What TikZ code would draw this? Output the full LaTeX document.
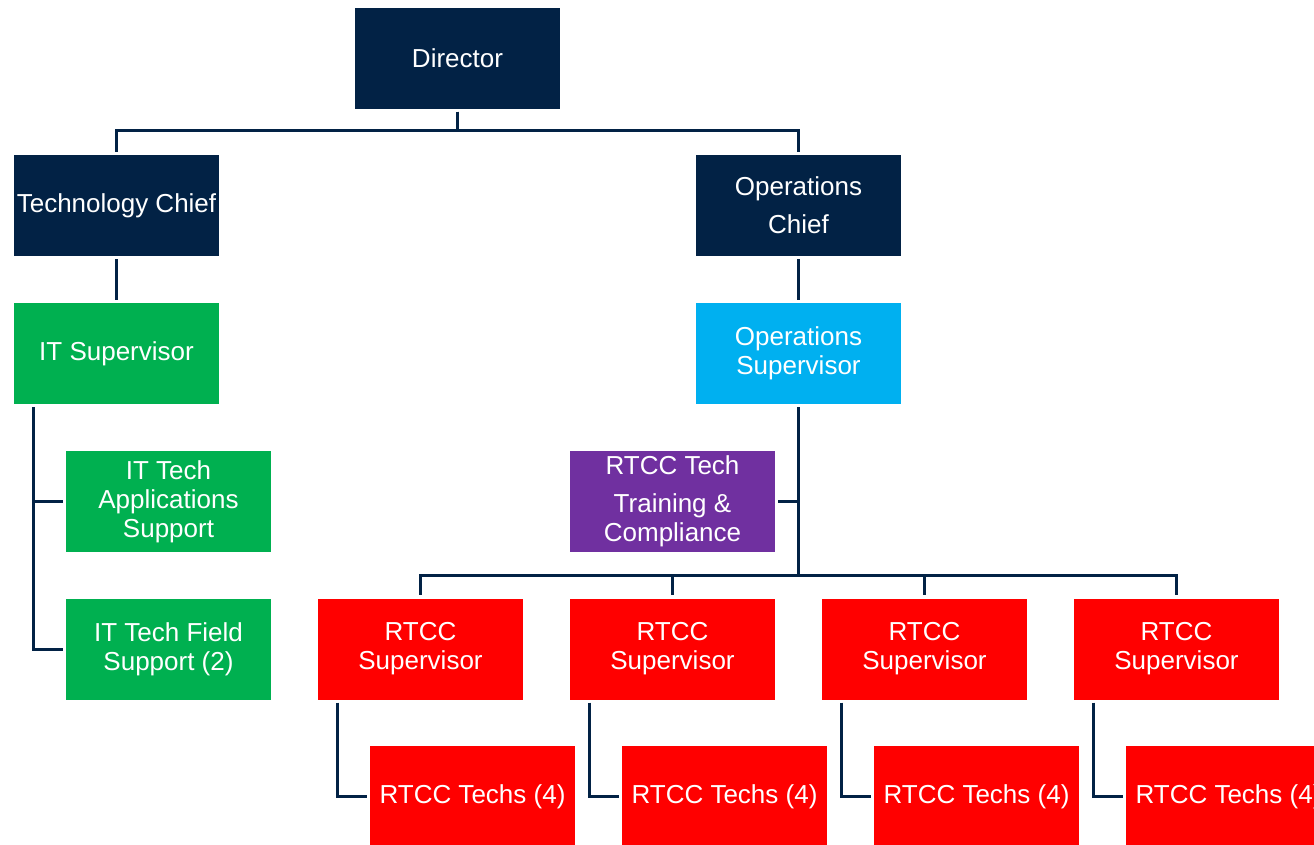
\documentclass[tikz,border=0pt]{standalone}
\usepackage{fontspec}
\setmainfont{Liberation Sans}

\definecolor{navy}{HTML}{022245}
\definecolor{itgreen}{HTML}{00B050}
\definecolor{opsblue}{HTML}{00B0F0}
\definecolor{trainpurple}{HTML}{7030A0}
\definecolor{rtccred}{HTML}{FF0000}

\tikzset{
  box/.style={minimum width=205pt, minimum height=101pt, inner sep=0pt,
    text=white, align=center, font=\fontsize{26}{29}\selectfont},
  conn/.style={draw=navy, line width=3pt, shorten <=3pt, shorten >=3pt}
}

\begin{document}
\begin{tikzpicture}[x=1pt,y=-1pt]
  \clip (0,0) rectangle (1314,844);
  \fill[white] (0,0) rectangle (1314,844);

  % top of the chart
  \node[box, fill=navy] (dir) at (457.5,58) {Director};
  \node[box, fill=navy] (techchief) at (116.5,205.5) {Technology Chief};
  \node[box, fill=navy] (opschief) at (798.5,205.5) {Operations\\[9pt]Chief};
  \node[box, fill=itgreen] (itsup) at (116.5,353.5) {IT Supervisor};
  \node[box, fill=opsblue] (opssup) at (798.5,353.5) {Operations\\Supervisor};

  % IT side
  \node[box, fill=itgreen] (itapp) at (168.5,501.5) {IT Tech\\Applications\\Support};
  \node[box, fill=itgreen] (itfield) at (168.5,649) {IT Tech Field\\Support (2)};

  % operations side
  \node[box, fill=trainpurple] (rtcctrain) at (672.5,501.5) {RTCC Tech\\[9pt]Training \&\\Compliance};
  \coordinate (bus) at (798.5,575);

  \draw[conn] (dir.south) -- ++(0,22) -| (techchief.north);
  \draw[conn] (dir.south) -- ++(0,22) -| (opschief.north);
  \draw[conn] (techchief) -- (itsup);
  \draw[conn] (opschief) -- (opssup);
  \draw[conn] ([xshift=20pt]itsup.south west) |- (itapp.west);
  \draw[conn] ([xshift=20pt]itsup.south west) |- (itfield.west);
  \draw[conn, shorten >=0pt] (opssup.south) -- (bus);
  \draw[conn, shorten >=0pt] (rtcctrain.east) -- (rtcctrain.east -| bus);

  \foreach \i/\x in {1/420.5,2/672.5,3/924.5,4/1176.5}
  {   \node[box, fill=rtccred] (rtccsup\i) at (\x,649) {RTCC\\Supervisor};
      \node[box, fill=rtccred] (rtcctechs\i) at (\x+52,796.5) {RTCC Techs (4)};
      \draw[conn, shorten <=0pt] (bus) -| (rtccsup\i.north);
      \draw[conn] ([xshift=20pt]rtccsup\i.south west) |- (rtcctechs\i.west);
  }
\end{tikzpicture}
\end{document}
